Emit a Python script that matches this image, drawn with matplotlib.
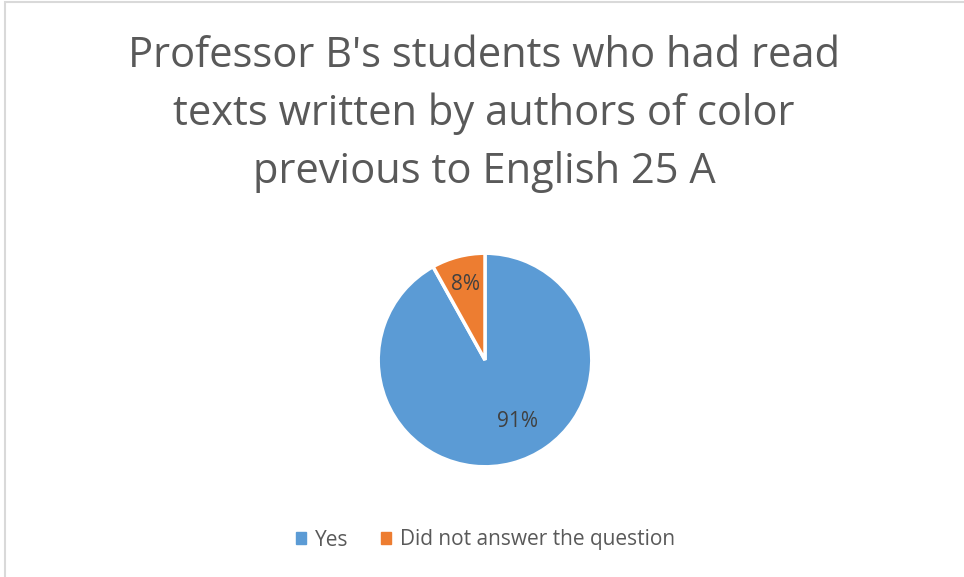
import matplotlib.pyplot as plt
from matplotlib.patches import Rectangle

title = "Professor B's students who had read\ntexts written by authors of color\nprevious to English 25 A"
labels = ['Yes', 'Did not answer the question']
values = [91, 8]
pct_labels = ['91%', '8%']
colors = ['#5B9BD5', '#ED7D31']

plt.rcParams['font.family'] = ['Open Sans', 'DejaVu Sans']

fig = plt.figure(figsize=(9.64, 5.77), dpi=100)

# light chart border (left and top edges visible)
fig.patches.append(Rectangle((5 / 964, -0.01), 1.02, 1 - 2 / 577 + 0.01,
                             transform=fig.transFigure, fill=False,
                             edgecolor='#D9D9D9', linewidth=1.5))

fig.text(0.502, 1 - 114 / 577, title, ha='center', va='center', fontsize=30,
         color='#595959', linespacing=1.5)

# pie: center ~ (485, 360) px, radius ~107 px
ax = fig.add_axes([(485 - 110) / 964, 1 - (360 + 110) / 577, 220 / 964, 220 / 577])
wedges, texts = ax.pie(values, colors=colors, startangle=90, counterclock=False,
                       wedgeprops=dict(edgecolor='white', linewidth=2.5))
ax.set_aspect('equal')
ax.set_xlim(-1.03, 1.03)
ax.set_ylim(-1.03, 1.03)

# percentage labels at the slice middles
ax.text(0.30, -0.58, pct_labels[0], ha='center', va='center', fontsize=15, color='#404040')
ax.text(-0.18, 0.71, pct_labels[1], ha='center', va='center', fontsize=15, color='#404040')

handles = [Rectangle((0, 0), 1, 1, color=c) for c in colors]
fig.legend(handles, labels, loc='center', bbox_to_anchor=(0.504, 1 - 540 / 577),
           ncol=2, frameon=False, fontsize=15, handlelength=0.45, handleheight=0.45,
           columnspacing=1.57, handletextpad=0.45, labelcolor='#595959')

fig.savefig('out.png', dpi=100)
